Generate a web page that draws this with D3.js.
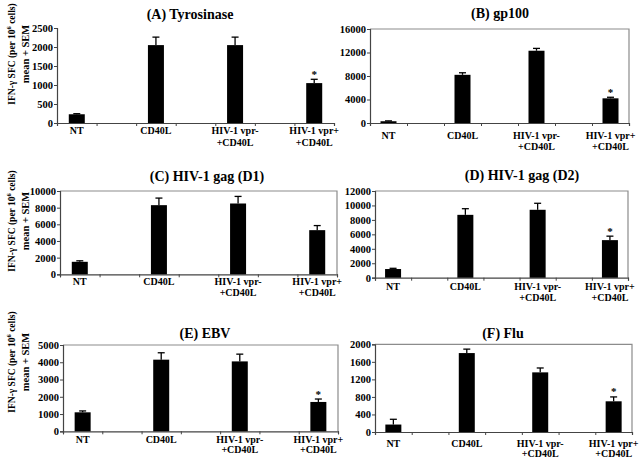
<!DOCTYPE html>
<html><head><meta charset="utf-8">
<script src="https://cdn.jsdelivr.net/npm/d3@7"></script>
<style>
body{margin:0;background:#fff}
svg{display:block}
text{font-family:"Liberation Serif","Times New Roman",serif;font-weight:bold;fill:#000}
</style>
</head><body><script>
// ---- data ----
const catLine1 = ["NT", "CD40L", "HIV-1 vpr-", "HIV-1 vpr+"];
const catLine2 = ["", "", "+CD40L", "+CD40L"];
const panelTitles = ["(A) Tyrosinase", "(B) gp100", "(C) HIV-1 gag (D1)", "(D) HIV-1 gag (D2)", "(E) EBV", "(F) Flu"];

const meanA = [230, 2050, 2050, 1050];
const semA  = [15, 210, 210, 100];
const ticksA = [0, 500, 1000, 1500, 2000, 2500];
const starsA = [3];

const meanB = [300, 8200, 12300, 4200];
const semB  = [60, 350, 400, 180];
const ticksB = [0, 4000, 8000, 12000, 16000];
const starsB = [3];

const meanC = [1500, 8300, 8500, 5300];
const semC  = [120, 850, 850, 550];
const ticksC = [0, 2000, 4000, 6000, 8000, 10000];
const starsC = [];

const meanD = [1200, 8700, 9400, 5200];
const semD  = [100, 850, 900, 550];
const ticksD = [0, 2000, 4000, 6000, 8000, 10000, 12000];
const starsD = [3];

const meanE = [1100, 4150, 4050, 1700];
const semE  = [80, 400, 420, 170];
const ticksE = [0, 1000, 2000, 3000, 4000, 5000];
const starsE = [3];

const meanF = [170, 1800, 1360, 700];
const semF  = [120, 90, 100, 100];
const ticksF = [0, 400, 800, 1200, 1600, 2000];
const starsF = [3];

// ---- layout ----
const layout = [
  {x0:57,  x1:334, y0:28,    y1:123,   tx:190, ty:18.5, l1:11,   l2:22.5, frame:false, yt:54},
  {x0:370, x1:629, y0:29,    y1:123,   tx:500, ty:17.5, l1:16,   l2:26.5, frame:true},
  {x0:60,  x1:337, y0:191,   y1:274.3, tx:207, ty:180.5,l1:10.5, l2:22,   frame:true, yt:221},
  {x0:375, x1:628, y0:191,   y1:277.7, tx:522, ty:179.5,l1:12.5, l2:23,   frame:true},
  {x0:63,  x1:338, y0:345,   y1:431.3, tx:205, ty:338,  l1:11.5, l2:21.5, frame:true, yt:362},
  {x0:375, x1:632, y0:344.3, y1:432,   tx:503, ty:338,  l1:14.5, l2:25,   frame:true}
];

const panels = [
  {mean:meanA, sem:semA, ticks:ticksA, stars:starsA},
  {mean:meanB, sem:semB, ticks:ticksB, stars:starsB},
  {mean:meanC, sem:semC, ticks:ticksC, stars:starsC},
  {mean:meanD, sem:semD, ticks:ticksD, stars:starsD},
  {mean:meanE, sem:semE, ticks:ticksE, stars:starsE},
  {mean:meanF, sem:semF, ticks:ticksF, stars:starsF}
];

const svg = d3.select("body").append("svg").attr("width", 640).attr("height", 458);

const nSlots = 7; // categories sit in every other slot (Excel blank categories)
panels.forEach((p, pi) => {
  const L = layout[pi];
  const g = svg.append("g");
  const xb = d3.scaleBand().domain(d3.range(nSlots)).range([L.x0, L.x1]);
  const xl = d3.scaleLinear().domain([0, nSlots]).range([L.x0, L.x1]);
  const y = d3.scaleLinear().domain([0, d3.max(p.ticks)]).range([L.y1, L.y0]);
  const slotOf = i => i * 2;
  const bw = 16;

  if (L.frame) {
    g.append("path")
      .attr("d", `M${xl(0)},${y(d3.max(p.ticks))}H${xl(nSlots)}V${y(0)}`)
      .attr("fill", "none").attr("stroke", "#8c8c8c").attr("stroke-width", 1.2);
  }

  const ya = g.append("g").attr("transform", `translate(${L.x0},0)`)
    .call(d3.axisLeft(y).tickValues(p.ticks).tickSize(3).tickPadding(1).tickFormat(d3.format("d")));
  ya.select(".domain").attr("stroke", "#444").attr("stroke-width", 1.2);
  ya.selectAll(".tick line").attr("stroke", "#444");
  ya.selectAll(".tick text").attr("font-size", 10.5).attr("font-family", "'Liberation Serif',serif").attr("font-weight", "bold");

  const xa = g.append("g").attr("transform", `translate(0,${L.y1})`)
    .call(d3.axisBottom(xl).tickValues(d3.range(nSlots + 1)).tickSize(3).tickFormat(""));
  xa.select(".domain").attr("stroke", "#444").attr("stroke-width", 1.2);
  xa.selectAll(".tick line").attr("stroke", "#444");

  g.selectAll("rect.bar").data(p.mean).join("rect").attr("class", "bar")
    .attr("x", (d, i) => xb(slotOf(i)) + xb.bandwidth() / 2 - bw / 2)
    .attr("width", bw)
    .attr("y", d => y(d))
    .attr("height", d => y(0) - y(d))
    .attr("fill", "#000");

  p.mean.forEach((m, i) => {
    const cx = xb(slotOf(i)) + xb.bandwidth() / 2;
    const top = y(m + p.sem[i]);
    g.append("line").attr("x1", cx).attr("x2", cx).attr("y1", y(m)).attr("y2", top)
      .attr("stroke", "#000").attr("stroke-width", 1.3);
    g.append("line").attr("x1", cx - 3.5).attr("x2", cx + 3.5).attr("y1", top).attr("y2", top)
      .attr("stroke", "#000").attr("stroke-width", 1.3);
  });

  p.stars.forEach(i => {
    const cx = xb(slotOf(i)) + xb.bandwidth() / 2;
    g.append("text").attr("x", cx).attr("y", y(p.mean[i] + p.sem[i]) - 1.5)
      .attr("text-anchor", "middle").attr("font-size", 11).text("*");
  });

  catLine1.forEach((t, i) => {
    const cx = xb(slotOf(i)) + xb.bandwidth() / 2;
    g.append("text").attr("x", cx).attr("y", L.y1 + L.l1).attr("text-anchor", "middle")
      .attr("font-size", 10).text(t);
    if (catLine2[i]) g.append("text").attr("x", cx).attr("y", L.y1 + L.l2).attr("text-anchor", "middle")
      .attr("font-size", 10).text(catLine2[i]);
  });

  g.append("text").attr("x", L.tx).attr("y", L.ty).attr("text-anchor", "middle")
    .attr("font-size", 14).text(panelTitles[pi]);

  if (L.yt !== undefined) {
    const t1 = g.append("text").attr("transform", `translate(14.5,${L.yt}) rotate(-90)`)
      .attr("text-anchor", "middle").attr("font-size", 9.5);
    t1.append("tspan").text("IFN-\u03b3 SFC (per 10");
    t1.append("tspan").attr("font-size", 6.5).attr("dy", -3.5).text("6");
    t1.append("tspan").attr("dy", 3.5).text(" cells)");
    g.append("text").attr("transform", `translate(28.5,${L.yt}) rotate(-90)`)
      .attr("text-anchor", "middle").attr("font-size", 10.5).text("mean + SEM");
  }
});
</script></body></html>
